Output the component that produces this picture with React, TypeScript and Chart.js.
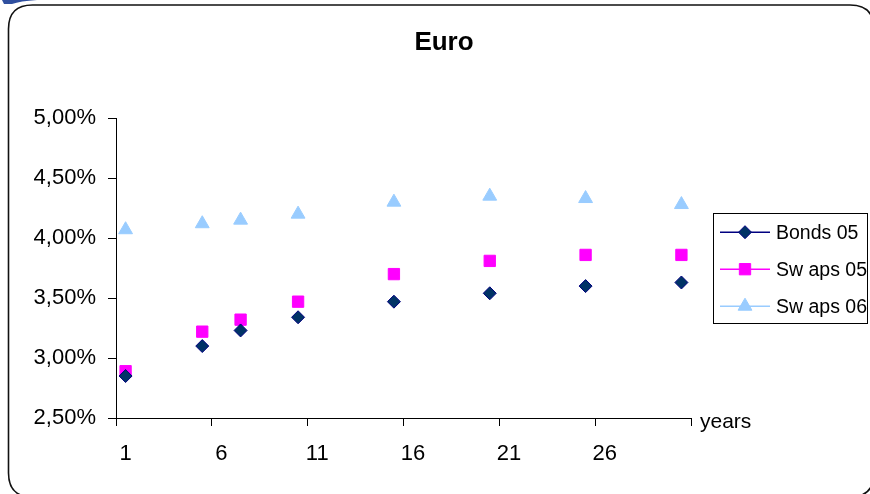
import React, { useEffect, useRef } from 'react';
import { Chart, registerables } from 'chart.js';

Chart.register(...registerables);

// ---- data ----
const categories = [
  '1', '2', '3', '4', '5', '6', '7', '8', '9', '10',
  '11', '12', '13', '14', '15', '16', '17', '18', '19', '20',
  '21', '22', '23', '24', '25', '26', '27', '28', '29', '30',
];
const years = [1, 5, 7, 10, 15, 20, 25, 30];
const bonds05 = [2.85, 3.10, 3.23, 3.34, 3.47, 3.54, 3.60, 3.63];
const swaps05 = [2.89, 3.22, 3.32, 3.47, 3.70, 3.81, 3.86, 3.86];
const swaps06 = [4.07, 4.12, 4.15, 4.20, 4.30, 4.35, 4.33, 4.28];
const seriesNames = ['Bonds 05', 'Sw aps 05', 'Sw aps 06'];
const titleText = 'Euro';
const xAxisTitle = 'years';
const yMin = 2.5;
const yMax = 5.0;
const yStep = 0.5;
const xLabelEvery = 5;

const FONT = '"Liberation Sans", Arial, sans-serif';

const toCategorySeries = (values: number[]) =>
  categories.map((c) => {
    const i = years.indexOf(Number(c));
    return i >= 0 ? values[i] : null;
  });

const styles = [
  { pointStyle: 'rectRot', radius: 6.5, fill: '#003366', stroke: '#000080', line: '#000080' },
  { pointStyle: 'rect', radius: 8, fill: '#FF00FF', stroke: '#FF00FF', line: '#FF00FF' },
  { pointStyle: 'triangle', radius: 8, fill: '#99CCFF', stroke: '#99CCFF', line: '#99CCFF' },
];

function drawMarker(ctx: CanvasRenderingContext2D, style: string, x: number, y: number, r: number) {
  ctx.beginPath();
  if (style === 'rectRot') {
    ctx.moveTo(x, y - r);
    ctx.lineTo(x + r, y);
    ctx.lineTo(x, y + r);
    ctx.lineTo(x - r, y);
    ctx.closePath();
  } else if (style === 'rect') {
    const s = r * Math.SQRT1_2;
    ctx.rect(x - s, y - s, 2 * s, 2 * s);
  } else {
    ctx.moveTo(x, y - r);
    ctx.lineTo(x + r * Math.sin((2 * Math.PI) / 3), y - r * Math.cos((2 * Math.PI) / 3));
    ctx.lineTo(x + r * Math.sin((4 * Math.PI) / 3), y - r * Math.cos((4 * Math.PI) / 3));
    ctx.closePath();
  }
  ctx.fill();
  ctx.stroke();
}

const framePlugin = {
  id: 'frame',
  beforeDraw(chart: any) {
    const ctx = chart.ctx as CanvasRenderingContext2D;
    ctx.save();
    // blue fragment at top-left
    ctx.fillStyle = '#2F4F9F';
    ctx.beginPath();
    ctx.moveTo(2, 0);
    ctx.lineTo(37, 0);
    ctx.quadraticCurveTo(20, 1, 12, 4);
    ctx.lineTo(4, 4);
    ctx.closePath();
    ctx.fill();
    // rounded frame
    const l = 8.5, t = 5, r = 874, b = 497, rad = 24;
    ctx.strokeStyle = '#111';
    ctx.lineWidth = 1.6;
    ctx.beginPath();
    ctx.moveTo(l + rad, t);
    ctx.lineTo(r - rad, t);
    ctx.quadraticCurveTo(r, t, r, t + rad);
    ctx.lineTo(r, b - rad);
    ctx.quadraticCurveTo(r, b, r - rad, b);
    ctx.lineTo(l + rad, b);
    ctx.quadraticCurveTo(l, b, l, b - rad);
    ctx.lineTo(l, t + rad);
    ctx.quadraticCurveTo(l, t, l + rad, t);
    ctx.stroke();
    ctx.restore();
  },
};

const extrasPlugin = {
  id: 'extras',
  afterDraw(chart: any) {
    const ctx = chart.ctx as CanvasRenderingContext2D;
    const area = chart.chartArea;
    ctx.save();
    // x axis title
    ctx.fillStyle = '#000';
    ctx.font = `21px ${FONT}`;
    ctx.textAlign = 'left';
    ctx.textBaseline = 'middle';
    ctx.fillText(xAxisTitle, area.right + 9, area.bottom + 4);

    // legend
    const bx = area.left + 597;
    const by = area.top + 95;
    const bw = 154;
    const bh = 110;
    ctx.strokeStyle = '#000';
    ctx.lineWidth = 1;
    ctx.strokeRect(Math.round(bx) + 0.5, Math.round(by) + 0.5, bw, bh);
    ctx.font = `19.5px ${FONT}`;
    seriesNames.forEach((name, i) => {
      const st = styles[i];
      const cy = by + 19 + i * 37;
      const lx0 = bx + 7;
      const lx1 = bx + 57;
      ctx.strokeStyle = st.line;
      ctx.lineWidth = 1.5;
      ctx.beginPath();
      ctx.moveTo(lx0, cy);
      ctx.lineTo(lx1, cy);
      ctx.stroke();
      ctx.fillStyle = st.fill;
      ctx.strokeStyle = st.stroke;
      ctx.lineWidth = 1;
      drawMarker(ctx, st.pointStyle, (lx0 + lx1) / 2, cy, st.radius);
      ctx.fillStyle = '#000';
      ctx.fillText(name, bx + 63, cy + 1);
    });
    ctx.restore();
  },
};

export default function App() {
  const canvasRef = useRef<HTMLCanvasElement | null>(null);

  useEffect(() => {
    const canvas = canvasRef.current;
    if (!canvas) return;
    const allSeries = [bonds05, swaps05, swaps06];
    const gridColor = (ctx: any) =>
      ctx.index === undefined || ctx.index % xLabelEvery === 0 ? '#000' : 'rgba(0,0,0,0)';

    const chart = new Chart(canvas, {
      type: 'line',
      data: {
        labels: categories,
        datasets: allSeries.map((vals, i) => ({
          label: seriesNames[i],
          data: toCategorySeries(vals),
          showLine: false,
          yAxisID: 'y',
          pointStyle: styles[i].pointStyle as any,
          pointRadius: styles[i].radius,
          pointHoverRadius: styles[i].radius,
          pointBackgroundColor: styles[i].fill,
          pointBorderColor: styles[i].stroke,
          pointBorderWidth: 1,
          borderColor: styles[i].line,
          backgroundColor: styles[i].fill,
        })),
      },
      options: {
        animation: false,
        responsive: true,
        maintainAspectRatio: false,
        layout: { padding: { left: 18, right: 0, top: 0, bottom: 0 } },
        plugins: {
          legend: { display: false },
          tooltip: { enabled: false },
          title: {
            display: true,
            text: titleText,
            color: '#000',
            font: { family: FONT, size: 26, weight: 'bold' },
            padding: { top: 27, bottom: 60 },
          },
        },
        scales: {
          x: {
            type: 'category',
            offset: true,
            grid: {
              offset: true,
              drawOnChartArea: false,
              drawTicks: true,
              tickLength: 8,
              color: gridColor,
              tickColor: gridColor,
              lineWidth: 1,
            },
            border: { display: true, color: '#000', width: 1 },
            ticks: {
              autoSkip: false,
              maxRotation: 0,
              minRotation: 0,
              padding: 15,
              color: '#000',
              font: { family: FONT, size: 22 },
              callback: (_v: any, idx: number) => (idx % xLabelEvery === 0 ? categories[idx] : ''),
            },
            afterFit: (scale: any) => {
              scale.height = 76;
            },
          },
          y: {
            position: 'left',
            min: yMin,
            max: yMax,
            grid: {
              drawOnChartArea: false,
              drawTicks: true,
              tickLength: 8,
              color: '#000',
              tickColor: '#000',
            },
            border: { display: true, color: '#000', width: 1 },
            ticks: {
              stepSize: yStep,
              padding: 12,
              color: '#000',
              font: { family: FONT, size: 22 },
              callback: (v: any) => Number(v).toFixed(2).replace('.', ',') + '%',
            },
            afterFit: (scale: any) => {
              scale.width = 98;
            },
          },
          // invisible right-hand spacer reserving room for the legend
          ySpace: {
            position: 'right',
            display: true,
            grid: { display: false, drawTicks: false },
            border: { display: false },
            ticks: { display: false },
            afterFit: (scale: any) => {
              scale.width = 179;
            },
          },
        },
      },
      plugins: [framePlugin, extrasPlugin],
    });
    return () => chart.destroy();
  }, []);

  return (
    <div style={{ position: 'fixed', left: 0, top: 0, width: 870, height: 494, background: '#fff' }}>
      <canvas ref={canvasRef} />
    </div>
  );
}
